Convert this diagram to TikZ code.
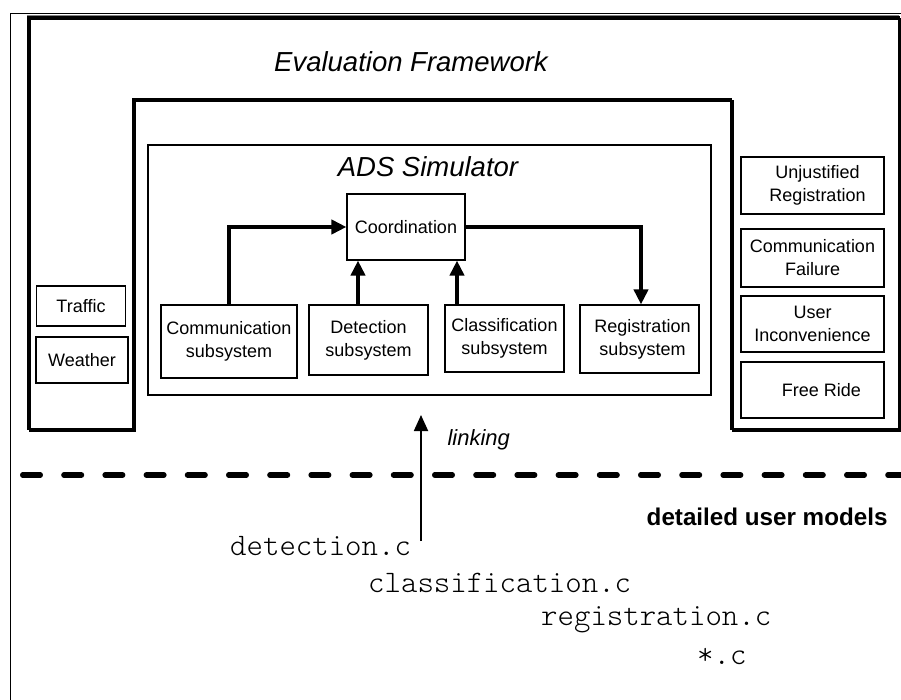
\documentclass[tikz,border=0pt]{standalone}
\usepackage{fontspec}
\setmainfont{Liberation Sans}
\newfontfamily\codefont{Latin Modern Mono Light}
\usetikzlibrary{arrows.meta}
\begin{document}
\begin{tikzpicture}[x=1pt,y=-1pt,
  sbox/.style={draw, line width=1.1pt, align=center, inner sep=0pt,
    font=\fontsize{18}{23}\selectfont},
  efline/.style={line width=1.1pt},
  flow/.style={line width=4.5pt, -{Triangle[length=15pt,width=14pt]}},
  linkarrow/.style={line width=1.8pt, -{Triangle[length=16pt,width=14pt]}},
  title/.style={font=\fontsize{27.5}{32}\selectfont\itshape},
  code/.style={font=\fontsize{31.3}{34}\codefont, anchor=west, inner sep=0pt}]
\useasboundingbox (0,0) rectangle (901,700);
% outer frame
\draw[line width=0.9pt] (10,700) -- (10,13) -- (901,13);
% evaluation framework outline with shadow
\draw[efline, shift={(2,2)}] (28,17) -- (899,17) -- (899,429) -- (731,429) -- (731,99) -- (133,99) -- (133,429) -- (28,429) -- cycle;
\draw[efline, gray] (27,16) -- (899,16);
\draw[efline] (28,17) -- (899,17) -- (899,429) -- (731,429) -- (731,99) -- (133,99) -- (133,429) -- (28,429) -- cycle;
\node[title] (ef) at (411,62) {Evaluation Framework};
% ADS simulator
\draw[line width=1.2pt] (148,145) rectangle (711,395);
\node[title] (ads) at (428,167) {ADS Simulator};
\node[sbox, minimum width=118pt, minimum height=66pt] (coord) at (406,227) {Coordination};
\node[sbox, minimum width=136pt, minimum height=73pt] (comm) at (229,341.5) {Communication\\subsystem};
\node[sbox, minimum width=119pt, minimum height=70pt] (det) at (368.5,340) {Detection\\subsystem};
\node[sbox, minimum width=119pt, minimum height=67pt] (cls) at (504.5,338.5) {Classification\\subsystem};
\node[sbox, minimum width=119pt, minimum height=68pt] (reg) at (639.5,339) {\hspace*{6pt}Registration\\\hspace*{6pt}subsystem};
\draw[flow] (comm.north) |- (coord.west);
\draw[flow] (det.north -| 358,0) -- (coord.south -| 358,0);
\draw[flow] (cls.north -| 457,0) -- (coord.south -| 457,0);
\draw[flow] (coord.east) -| (reg.north -| 641,0);
% left boxes
\node[sbox, minimum width=89pt, minimum height=40pt] (traffic) at (81,306) {Traffic};
\node[sbox, minimum width=92pt, minimum height=46pt] (weather) at (82,360) {Weather};
% right boxes
\node[sbox, minimum width=143pt, minimum height=57pt] (unj) at (812.5,185.5) {\hspace*{10pt}Unjustified\\\hspace*{10pt}Registration};
\node[sbox, minimum width=143pt, minimum height=58pt] (cf) at (812.5,258) {Communication\\Failure};
\node[sbox, minimum width=143pt, minimum height=56pt] (ui) at (812.5,324) {User\\Inconvenience};
\node[sbox, minimum width=143pt, minimum height=56pt] (fr) at (812.5,390) {\hspace*{18pt}Free Ride};
% dashed separator
\draw[line width=5.5pt, line cap=round, dash pattern=on 17.5pt off 23.7pt] (22.75,475) -- (901,475);
% linking
\coordinate (linkstart) at (421,541);
\coordinate (linkend) at (421,415);
\draw[linkarrow] (linkstart) -- (linkend);
\node[font=\fontsize{22}{26}\selectfont\itshape, anchor=west] (link) at (444,440) {linking};
\node[font=\fontsize{24.2}{28}\selectfont\bfseries, anchor=east] (dum) at (891,517) {detailed user models};
% code files
\node[code] (f1) at (230,546) {detection.c};
\node[code] (f2) at (368,583) {classification.c};
\node[code] (f3) at (541,620) {registration.c};
\node[code] (f4) at (697,656) {*.c};
\end{tikzpicture}
\end{document}
